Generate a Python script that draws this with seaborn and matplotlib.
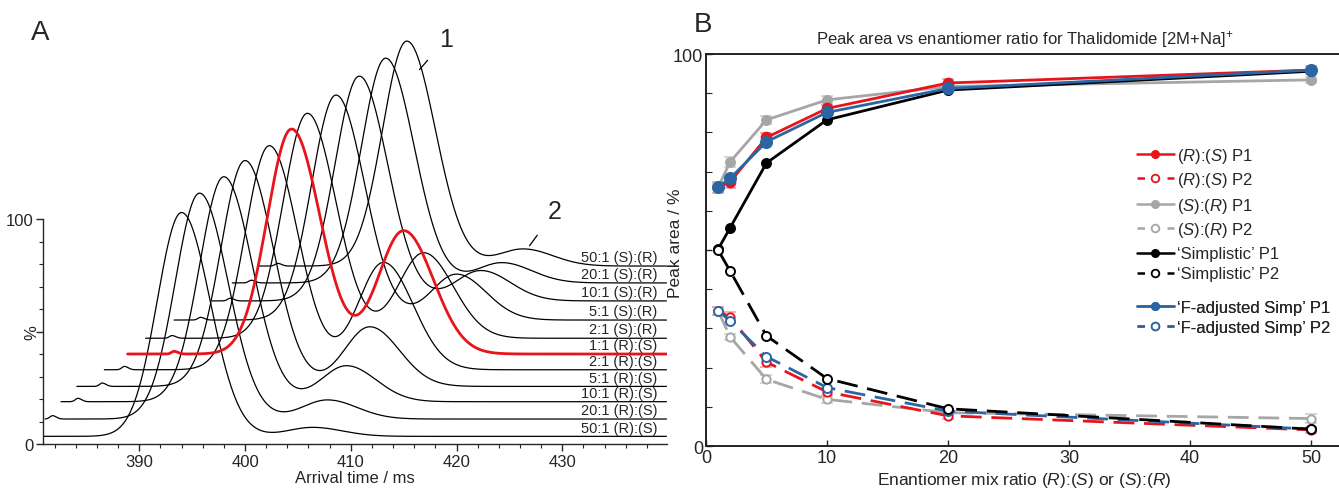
import numpy as np
import pandas as pd
import seaborn as sns
import matplotlib
matplotlib.use('Agg')
import matplotlib.pyplot as plt
from matplotlib.lines import Line2D
from matplotlib.ticker import MultipleLocator, FixedLocator

# ---- panel A: arrival time distributions (waterfall) ----
ratio_labels = ["50:1 (R):(S)", "20:1 (R):(S)", "10:1 (R):(S)", "5:1 (R):(S)", "2:1 (R):(S)",
                "1:1 (R):(S)", "2:1 (S):(R)", "5:1 (S):(R)", "10:1 (S):(R)", "20:1 (S):(R)",
                "50:1 (S):(R)"]
trace_start = [380.9, 381.1, 382.6, 384.1, 386.7, 388.9, 390.6, 393.3, 396.9, 398.8, 401.2]
trace_offset = [3.4, 11.1, 18.8, 25.6, 33.0, 40.0, 47.0, 55.1, 63.6, 71.6, 79.1]
peak1_time = [394.0, 395.7, 398.0, 400.0, 402.3, 404.4, 405.9, 408.6, 410.8, 413.3, 415.3]
peak1_height = [99.5, 100.4, 100.0, 100.4, 99.6, 100.0, 100.0, 100.0, 99.9, 99.9, 100.0]
peak2_time = [406.4, 407.8, 409.6, 411.8, 413.1, 415.0, 416.9, 420.0, 422.3, 424.3, 426.3]
peak2_height = [4.0, 8.5, 16.0, 26.5, 47.7, 54.8, 38.0, 20.4, 13.5, 9.0, 7.6]
bump_time = [381.0, 381.8, 384.2, 386.5, 388.6, 393.3, 393.1, 395.8, 398.6, 400.6, 403.1]
bump_height = [0.0, 1.5, 1.5, 1.5, 1.5, 1.2, 1.2, 1.2, 1.2, 1.2, 1.2]
time_end = 439.9

# ---- panel B: peak area vs enantiomer ratio ----
mix_ratio = [1, 2, 5, 10, 20, 50]
rs_p1 = [66.0, 67.4, 78.7, 86.1, 92.6, 95.9]
rs_p2 = [34.5, 32.8, 21.4, 13.8, 7.7, 4.1]
sr_p1 = [66.0, 72.5, 83.2, 88.3, 91.7, 93.4]
sr_p2 = [34.5, 27.8, 17.0, 11.9, 8.5, 7.0]
simp_p1 = [50.2, 55.7, 72.2, 83.2, 90.8, 95.6]
simp_p2 = [50.0, 44.6, 28.1, 17.2, 9.5, 4.3]
fadj_p1 = [66.0, 68.3, 77.6, 85.1, 91.2, 95.9]
fadj_p2 = [34.5, 31.9, 22.8, 14.9, 8.9, 4.3]
rs_p1_err = [1.4, 1.5, 1.2, 1.0, 1.0, 1.0]
rs_p2_err = [1.0, 1.5, 1.2, 1.0, 0.8, 0.8]
sr_p1_err = [0.8, 1.2, 1.0, 1.0, 0.8, 0.8]
sr_p2_err = [1.0, 0.8, 1.0, 1.0, 0.6, 1.2]

sns.set_theme(style='ticks')
plt.rcParams['font.family'] = ['Liberation Sans', 'DejaVu Sans']
plt.rcParams['mathtext.fontset'] = 'custom'
plt.rcParams['mathtext.rm'] = 'Liberation Sans'
plt.rcParams['mathtext.it'] = 'Liberation Sans:italic'

fig = plt.figure(figsize=(13.39, 4.89), dpi=100)

# ---------------- panel A ----------------
axA = fig.add_axes([43 / 1339, 1 - 445 / 489, 624 / 1339, 445 / 489])


def half_gauss(t, mu, h, sl, sr):
    s = np.where(t < mu, sl, sr)
    return h * np.exp(-0.5 * ((t - mu) / s) ** 2)


rows = []
for i, lab in enumerate(ratio_labels):
    t = np.arange(trace_start[i], time_end, 0.05)
    y = (trace_offset[i]
         + half_gauss(t, peak1_time[i], peak1_height[i], 2.3, 2.7)
         + half_gauss(t, peak2_time[i], peak2_height[i], 2.4, 2.8)
         + half_gauss(t, bump_time[i], bump_height[i], 0.25, 0.35))
    rows.append(pd.DataFrame({'time': t, 'intensity': y, 'ratio': lab}))
atd = pd.concat(rows, ignore_index=True)

black = atd[atd['ratio'] != "1:1 (R):(S)"]
red = atd[atd['ratio'] == "1:1 (R):(S)"]
sns.lineplot(data=black, x='time', y='intensity', units='ratio', estimator=None,
             sort=False, color='black', lw=0.9, ax=axA)
sns.lineplot(data=red, x='time', y='intensity', estimator=None, sort=False,
             color='#e8141b', lw=2.0, ax=axA)

for i, lab in enumerate(ratio_labels):
    axA.text(439.0, trace_offset[i] + 0.8, lab, ha='right', va='bottom', fontsize=10.5)

axA.annotate('1', xy=(416.5, 166.4), xytext=(419.0, 180), fontsize=18, ha='center', va='center',
             arrowprops=dict(arrowstyle='-', color='black', lw=0.9, shrinkA=9, shrinkB=0))
axA.annotate('2', xy=(426.9, 88.1), xytext=(429.3, 103.5), fontsize=18, ha='center', va='center',
             arrowprops=dict(arrowstyle='-', color='black', lw=0.9, shrinkA=9, shrinkB=0))

axA.set_xlim(380.9, time_end)
axA.set_ylim(0, 197.8)
sns.despine(ax=axA)
axA.spines['left'].set_bounds(0, 100)
for s in ['left', 'bottom']:
    axA.spines[s].set_linewidth(1.0)
axA.xaxis.set_major_locator(FixedLocator([390, 400, 410, 420, 430]))
axA.xaxis.set_minor_locator(MultipleLocator(2))
axA.yaxis.set_major_locator(FixedLocator([0, 50, 100]))
axA.set_yticklabels(['0', '', '100'])
axA.yaxis.set_minor_locator(FixedLocator([10, 20, 30, 40, 60, 70, 80, 90]))
axA.tick_params(axis='both', which='major', direction='out', length=5, width=1.0, labelsize=12, pad=2)
axA.tick_params(axis='both', which='minor', direction='out', length=3, width=0.8)
axA.set_xlabel('Arrival time / ms', fontsize=12, labelpad=1)
axA.set_ylabel('')
axA.text(-0.018, 50, '%', rotation=90, fontsize=12, ha='center', va='center',
         transform=axA.get_yaxis_transform())
fig.text(40 / 1339, 1 - 33 / 489, 'A', fontsize=20, ha='center', va='center')

# ---------------- panel B ----------------
axB = fig.add_axes([706 / 1339, 1 - 447 / 489, 52.6 * 12.1 / 1339, 392 / 489])

red_c, gray_c, blue_c = '#e8141b', '#a6a6a6', '#2b65a3'
dash = (0, (7.5, 3.5))

series = [
    (sr_p1, sr_p1_err, gray_c, '#cfcfcf', '-', True, 6.5),
    (simp_p1, None, 'black', None, '-', True, 6.5),
    (rs_p1, rs_p1_err, red_c, '#f2a0a0', '-', True, 7),
    (fadj_p1, None, blue_c, None, '-', True, 8),
    (sr_p2, sr_p2_err, gray_c, '#cfcfcf', dash, False, 6),
    (rs_p2, rs_p2_err, red_c, '#f2a0a0', dash, False, 6),
    (fadj_p2, None, blue_c, None, dash, False, 6.5),
    (simp_p2, None, 'black', None, dash, False, 6.5),
]
for vals, err, c, ec, ls, filled, ms in series:
    if err is not None:
        axB.errorbar(mix_ratio, vals, yerr=err, fmt='none', ecolor=ec, elinewidth=1.2,
                     capsize=4, capthick=1.2, zorder=1.5)
    sns.lineplot(x=mix_ratio, y=vals, ax=axB, color=c, lw=2.0, linestyle=ls, marker='o',
                 markersize=ms, markeredgewidth=1.4, markeredgecolor=c,
                 markerfacecolor=c if filled else 'white', estimator=None, sort=False)

axB.set_xlim(0, 52.6)
axB.set_ylim(0, 100)
axB.xaxis.set_major_locator(MultipleLocator(10))
axB.yaxis.set_major_locator(FixedLocator([0, 50, 100]))
axB.set_yticklabels(['0', '', '100'])
axB.yaxis.set_minor_locator(MultipleLocator(10))
axB.tick_params(axis='both', which='major', direction='in', length=4, width=1.0, labelsize=13, pad=2)
axB.tick_params(axis='y', which='minor', direction='in', length=4, width=0.8)
for s in ['left', 'bottom', 'top', 'right']:
    axB.spines[s].set_linewidth(1.4)
    axB.spines[s].set_color('#222222')
axB.set_title('Peak area vs enantiomer ratio for Thalidomide [2M+Na]$^{+}$', fontsize=12, pad=8)
axB.set_xlabel('Enantiomer mix ratio ($\\it{R}$):($\\it{S}$) or ($\\it{S}$):($\\it{R}$)',
               fontsize=12.5)
axB.xaxis.set_label_coords(0.5, -0.06)
axB.set_ylabel('Peak area / %', fontsize=12.5)
axB.yaxis.set_label_coords(-0.036, 0.52)
fig.text(703 / 1339, 1 - 25 / 489, 'B', fontsize=20, ha='center', va='center')

# legend in four groups
groups = [
    (red_c, ['($\\it{R}$):($\\it{S}$) P1', '($\\it{R}$):($\\it{S}$) P2'], 0.700),
    (gray_c, ['($\\it{S}$):($\\it{R}$) P1', '($\\it{S}$):($\\it{R}$) P2'], 0.597),
    ('black', ['\u2018Simplistic\u2019 P1', '\u2018Simplistic\u2019 P2'], 0.494),
    (blue_c, ['\u2018F-adjusted Simp\u2019 P1', '\u2018F-adjusted Simp\u2019 P2'], 0.384),
]
for c, labels, ytop in groups:
    h1 = Line2D([], [], color=c, lw=1.8, marker='o', markersize=5.5, markerfacecolor=c,
                markeredgecolor=c)
    h2 = Line2D([], [], color=c, lw=1.8, linestyle=(0, (3.0, 3.0)), marker='o', markersize=5.5,
                markerfacecolor='white', markeredgecolor=c, markeredgewidth=1.3)
    leg = axB.legend([h1, h2], labels, loc='upper left', bbox_to_anchor=(1137 / 1339, ytop),
                     bbox_transform=fig.transFigure, frameon=False, fontsize=12, borderpad=0,
                     borderaxespad=0, handlelength=2.2, handletextpad=0.2, labelspacing=0.3)
    axB.add_artist(leg)

fig.savefig('out.png', dpi=100)
